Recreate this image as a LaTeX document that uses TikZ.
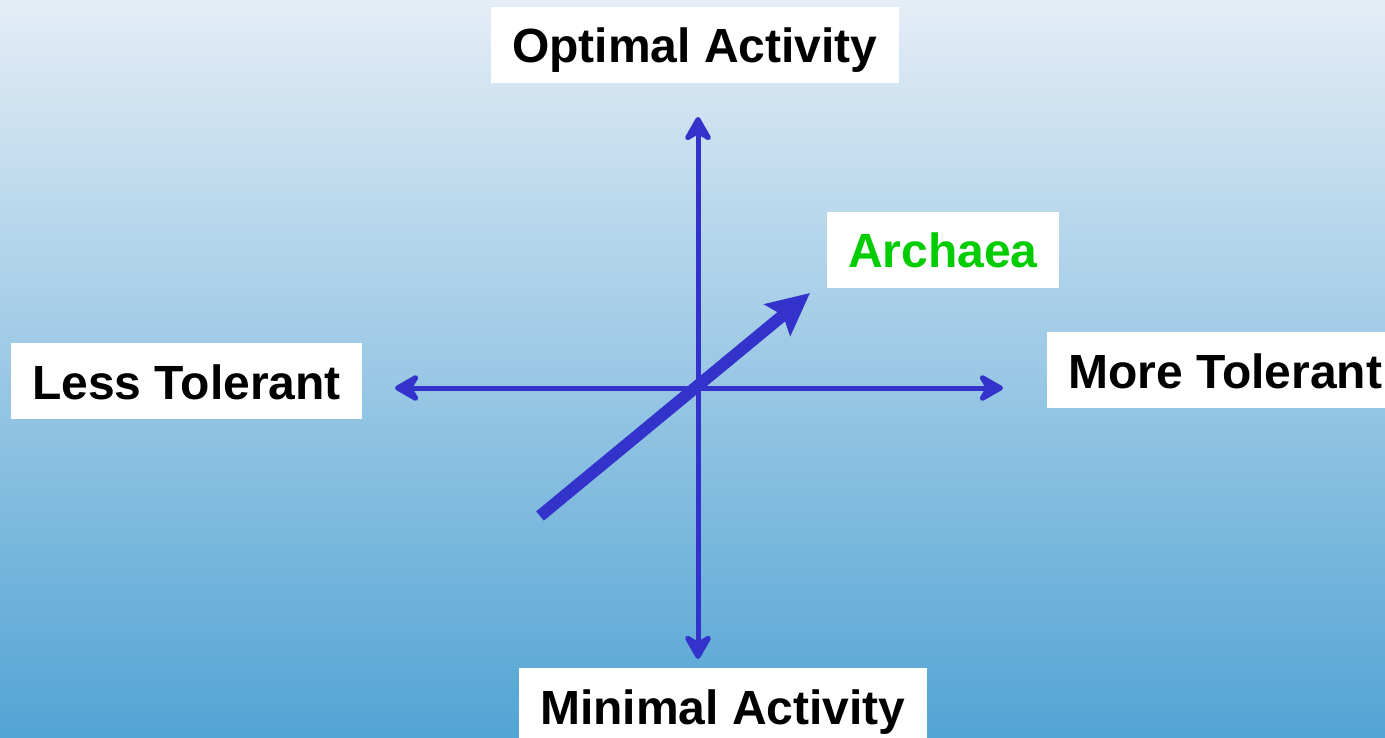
\documentclass[tikz,border=0pt]{standalone}
\usepackage{fontspec}
\setmainfont{Liberation Sans}
\usetikzlibrary{arrows.meta}
\definecolor{axisblue}{HTML}{3333CC}
\definecolor{bgtop}{HTML}{E4EDF6}
\definecolor{bgbot}{HTML}{52A4D4}
\definecolor{archgreen}{HTML}{00CC00}
\tikzset{
  label box/.style={fill=white, anchor=base west, inner xsep=21pt, inner ysep=0pt,
    text height=56pt, text depth=20pt,
    font=\fontsize{48}{56}\selectfont\bfseries},
  axis/.style={draw=axisblue, line width=5pt,
    {Stealth[length=30pt,width=34pt,inset=10pt,round]}-{Stealth[length=30pt,width=34pt,inset=10pt,round]}},
  bigarrow/.style={draw=axisblue, line width=12pt,
    -{Stealth[length=42pt,width=40pt,inset=7pt]}}
}
\begin{document}
\begin{tikzpicture}[x=1pt,y=-1pt]
\useasboundingbox (0,0) rectangle (1385,738);
\shade[top color=bgtop, bottom color=bgbot] (0,0) rectangle (1385,738);
\coordinate (top) at (698,117);
\coordinate (bot) at (698,659);
\coordinate (left) at (395,388);
\coordinate (right) at (1003,388);
\coordinate (tail) at (540,516);
\coordinate (tip) at (810,293);
\draw[axis] (bot) -- (top);
\draw[axis] (left) -- (right);
\draw[bigarrow] (tail) -- (tip);
\node[label box] (opt) at (491,63) {Optimal Activity};
\node[label box, text=archgreen] (arch) at (827,268) {Archaea};
\node[label box] (less) at (11,399) {Less Tolerant};
\node[label box] (more) at (1047,388) {More Tolerant};
\node[label box] (min) at (519,724) {Minimal Activity};
\end{tikzpicture}
\end{document}
